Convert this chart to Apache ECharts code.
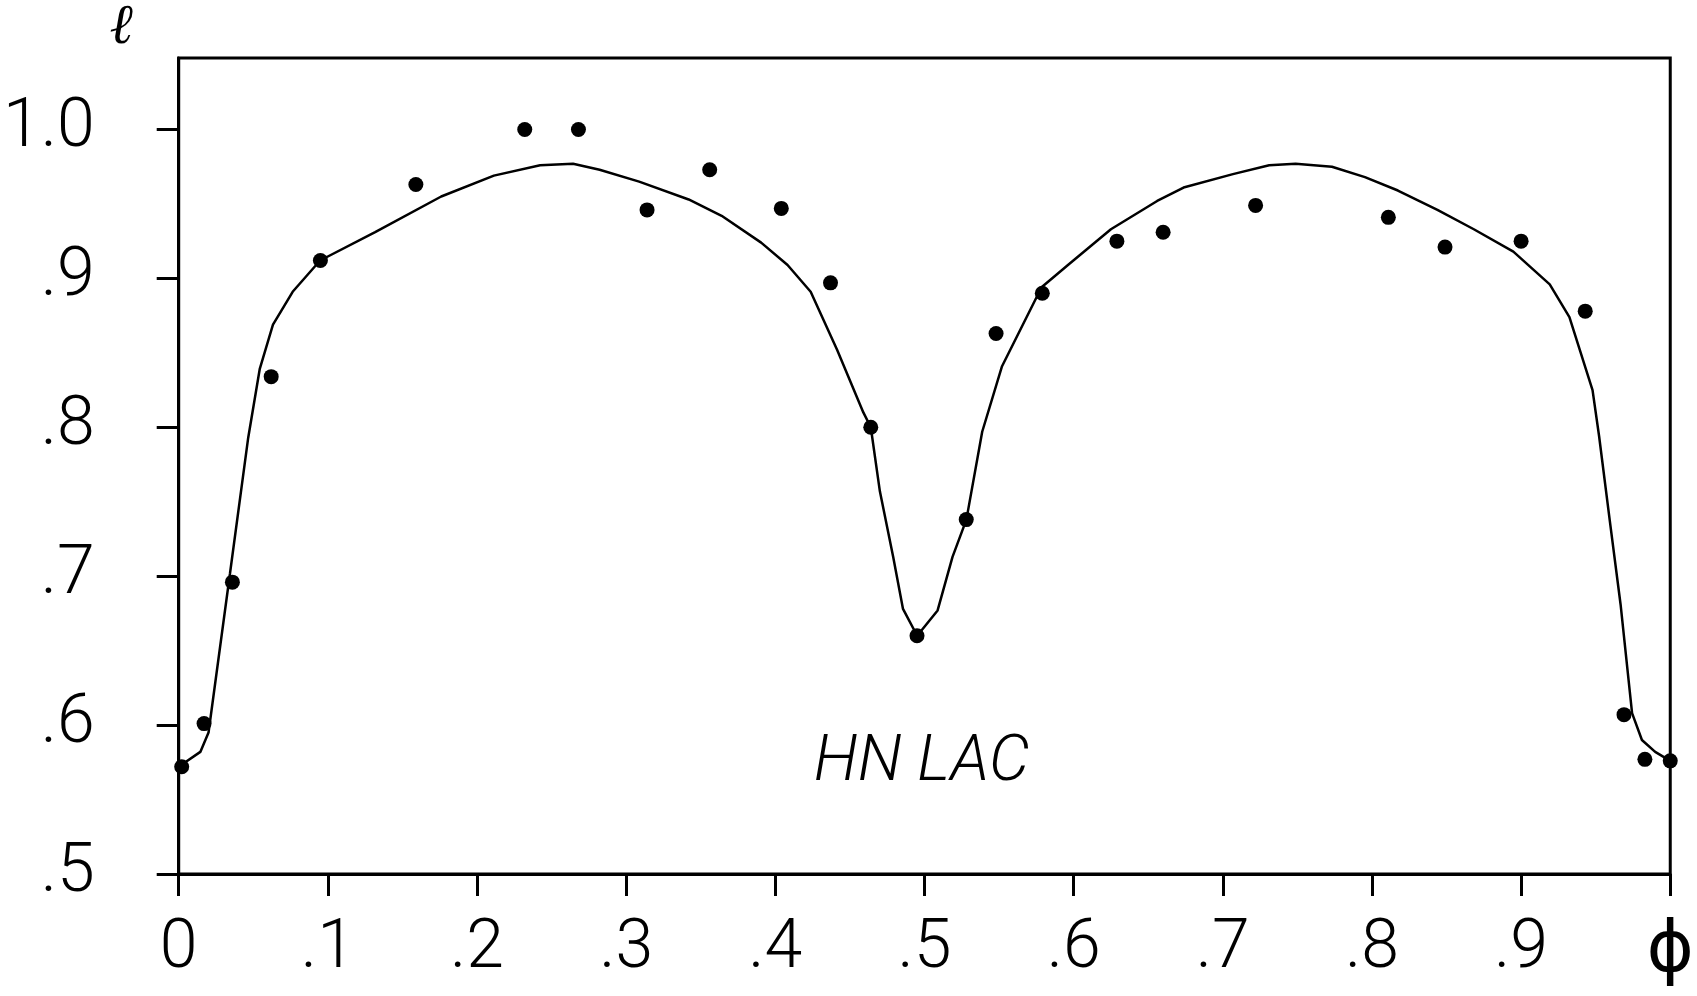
<!DOCTYPE html>
<html>
<head>
<meta charset="utf-8">
<script src="https://cdn.jsdelivr.net/npm/echarts@6/dist/echarts.min.js"></script>
<style>
html,body{margin:0;padding:0;background:#fff;}
#chart{width:1697px;height:996px;}
</style>
</head>
<body>
<div id="chart"></div>
<script>
// Observed points (phase, relative light)
var phaseObs = [0.002,0.017,0.036,0.062,0.095,0.159,0.232,0.268,0.314,0.356,0.404,0.437,0.464,0.495,0.528,0.548,0.579,0.629,0.660,0.722,0.811,0.849,0.900,0.943,0.969,0.983,1.000];
var lumObs   = [0.572,0.601,0.696,0.834,0.912,0.963,1.000,1.000,0.946,0.973,0.947,0.897,0.800,0.660,0.738,0.863,0.890,0.925,0.931,0.949,0.941,0.921,0.925,0.878,0.607,0.577,0.576];

// Fitted light curve
var phaseFit = [0,0.0145,0.020,0.0344,0.0466,0.0543,0.0632,0.0764,0.0948,0.1317,0.176,0.2113,0.2423,0.2644,0.2822,0.3087,0.3419,0.364,0.3905,0.4082,0.4237,0.4414,0.459,0.464,0.4701,0.479,0.4856,0.4951,0.5088,0.5188,0.5281,0.5387,0.552,0.5785,0.5962,0.625,0.656,0.6737,0.7068,0.7311,0.7488,0.7732,0.7953,0.8174,0.8439,0.8683,0.8948,0.9192,0.9324,0.9479,0.9523,0.9595,0.9667,0.9744,0.981,0.9899,1.0];
var lumFit   = [0.572,0.582,0.595,0.702,0.793,0.839,0.869,0.891,0.912,0.931,0.955,0.969,0.976,0.977,0.973,0.965,0.953,0.942,0.924,0.909,0.891,0.852,0.810,0.800,0.757,0.713,0.678,0.660,0.677,0.713,0.738,0.797,0.841,0.894,0.909,0.933,0.952,0.961,0.970,0.976,0.977,0.975,0.968,0.959,0.946,0.933,0.918,0.896,0.874,0.825,0.794,0.737,0.681,0.608,0.590,0.582,0.576];

// Tick values and labels
var xTicks = [0,0.1,0.2,0.3,0.4,0.5,0.6,0.7,0.8,0.9,1.0];
var xTickLabels = ['0','.1','.2','.3','.4','.5','.6','.7','.8','.9','{p|\u03D5}'];
var yTicks = [0.5,0.6,0.7,0.8,0.9,1.0];
var yTickLabels = ['.5','.6','.7','.8','.9','1.0'];
var starName = 'HN LAC';
var yName = '\u2113';

var FONT = 'Roboto';
function lab(ticks, labels){
  return function(v){
    for (var i=0;i<ticks.length;i++){ if (Math.abs(ticks[i]-v)<1e-6) return labels[i]; }
    return '';
  };
}

var chart = echarts.init(document.getElementById('chart'), null, {renderer:'canvas'});
var obs = phaseObs.map(function(p,i){return [p, lumObs[i]];});
var fit = phaseFit.map(function(p,i){return [p, lumFit[i]];});

chart.setOption({
  backgroundColor:'#fff',
  animation:false,
  grid:{left:172, top:42, right:18, bottom:122, show:true, borderColor:'#000', borderWidth:3, backgroundColor:'transparent'},
  xAxis:{
    type:'value', min:0, max:1.0, interval:0.1,
    axisLine:{show:true, lineStyle:{color:'#000', width:3}},
    axisTick:{show:true, length:22, lineStyle:{color:'#000', width:3}, customValues:xTicks},
    axisLabel:{show:true, margin:42, color:'#000', fontFamily:FONT, fontWeight:300, fontSize:68, formatter:lab(xTicks,xTickLabels), customValues:xTicks,
      rich:{p:{fontFamily:'DejaVu Sans', fontWeight:'normal', fontSize:72, color:'#000'}}},
    splitLine:{show:false}
  },
  yAxis:{
    type:'value', min:0.5, max:1.048, interval:0.1,
    name:yName, nameLocation:'end', nameGap:2,
    nameTextStyle:{color:'#000', fontFamily:'DejaVu Serif', fontStyle:'italic', fontSize:56, align:'right', padding:[0,46,0,0]},
    axisLine:{show:true, lineStyle:{color:'#000', width:3}},
    axisTick:{show:true, length:22, lineStyle:{color:'#000', width:3}, customValues:yTicks},
    axisLabel:{show:true, margin:84, align:'right', color:'#000', fontFamily:FONT, fontWeight:300, fontSize:68, formatter:lab(yTicks,yTickLabels), customValues:yTicks},
    splitLine:{show:false}
  },
  series:[
    {type:'line', data:fit, showSymbol:false, smooth:false, lineStyle:{color:'#000', width:2.5}, z:2, silent:true},
    {type:'scatter', data:obs, symbol:'circle', symbolSize:15, itemStyle:{color:'#000', opacity:1}, z:3, silent:true}
  ]
});

var pos = chart.convertToPixel({gridIndex:0}, [0.498, 0.574]);
chart.setOption({
  graphic:[{type:'text', x:pos[0], y:pos[1], style:{text:starName, fill:'#000', font:'italic 300 64px Roboto', align:'center', verticalAlign:'middle'}}]
});
</script>
</body>
</html>
